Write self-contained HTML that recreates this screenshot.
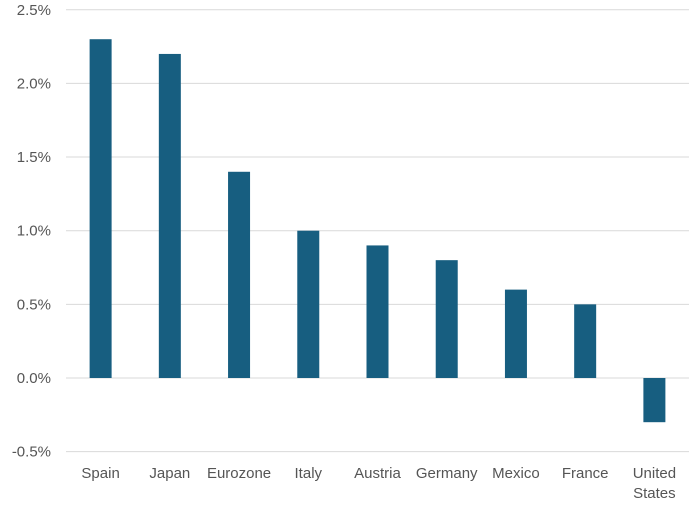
<!DOCTYPE html>
<html><head><meta charset="utf-8"><style>
html,body{margin:0;padding:0;background:#fff;}
svg text{font-family:"Liberation Sans",sans-serif;font-size:15px;fill:#555;}
</style></head><body>
<svg id="chart" width="700" height="508"></svg>
<script>
const categories=["Spain","Japan","Eurozone","Italy","Austria","Germany","Mexico","France","United States"];
const values=[2.3,2.2,1.4,1.0,0.9,0.8,0.6,0.5,-0.3];
const ticks=[-0.5,0,0.5,1.0,1.5,2.0,2.5];
const tickLabels=["-0.5%","0.0%","0.5%","1.0%","1.5%","2.0%","2.5%"];
const svg=document.getElementById('chart');
const NS='http://www.w3.org/2000/svg';
const left=66,right=689,y0=378,pxPer=147.3;
const yS=v=>y0-v*pxPer;
const band=(right-left)/categories.length;
const xS=i=>left+band*(i+0.5);
function mk(t,a){const e=document.createElementNS(NS,t);for(const k in a)e.setAttribute(k,a[k]);svg.appendChild(e);return e;}
ticks.forEach((t,i)=>{
  const g=mk('line',{x1:left,x2:right,y1:yS(t),y2:yS(t),stroke:'#d9d9d9','stroke-width':1});
  
  
  const l=mk('text',{x:51,y:yS(t)+5,'text-anchor':'end'});
  l.textContent=tickLabels[i];
  
  
});
categories.forEach((c,i)=>{
  const v=values[i];
  const b=mk('rect',{x:xS(i)-11,y:Math.min(yS(v),y0),width:22,height:Math.abs(yS(v)-y0),fill:'#175e80'});
  
  
  const words=c.split(' ');
  words.forEach((w,j)=>{
    const t=mk('text',{x:xS(i),y:478+j*20,'text-anchor':'middle'});
    t.textContent=w;
    
    
  });
});
</script>
</body></html>
